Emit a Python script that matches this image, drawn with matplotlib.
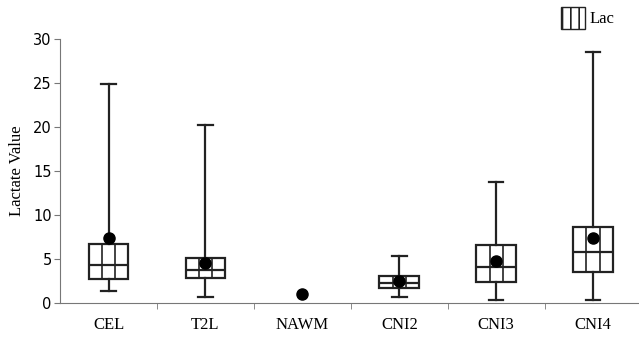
import numpy as np
import matplotlib.pyplot as plt
from matplotlib.patches import Patch

# Data
categories = ['CEL', 'T2L', 'NAWM', 'CNI2', 'CNI3', 'CNI4']
whisker_low = [1.4, 0.7, None, 0.7, 0.4, 0.4]
q1 = [2.7, 2.8, None, 1.7, 2.4, 3.5]
median = [4.35, 3.75, None, 2.3, 4.1, 5.8]
q3 = [6.7, 5.1, None, 3.1, 6.6, 8.6]
whisker_high = [24.9, 20.2, None, 5.3, 13.7, 28.5]
means = [7.4, 4.5, 1.0, 2.5, 4.8, 7.4]

plt.rcParams['hatch.linewidth'] = 1.2
plt.rcParams['hatch.color'] = '#222222'

fig = plt.figure(figsize=(6.39, 3.39), dpi=100)
ax = fig.add_axes([0.094, 0.106, 0.91, 0.779])

stats, pos = [], []
for i, c in enumerate(categories):
    if q1[i] is None:
        continue
    stats.append(dict(label=c, whislo=whisker_low[i], q1=q1[i], med=median[i],
                      q3=q3[i], whishi=whisker_high[i], fliers=[]))
    pos.append(i)

w = 0.41
line = dict(color='#222222', linewidth=1.6)
bp = ax.bxp(stats, positions=pos, widths=w, patch_artist=True,
            showfliers=False, boxprops=dict(facecolor='white', edgecolor='#222222', linewidth=1.6),
            medianprops=line, whiskerprops=line, capprops=line, capwidths=0.15,
            manage_ticks=False)

# vertical pattern lines splitting each box in three columns
for p, s in zip(pos, stats):
    ax.vlines([p - w / 6, p + w / 6], s['q1'], s['q3'], color='#222222', linewidth=1.2, zorder=3)

ax.plot(range(len(categories)), means, 'o', color='black', markersize=8, zorder=5)

ax.set_xlim(-0.5, 5.5)
ax.set_ylim(0, 30)
ax.set_yticks(range(0, 31, 5))
ax.set_xticks(range(len(categories)))
ax.set_xticklabels(categories, family='Liberation Serif', fontsize=12)
ax.set_xticks(np.arange(0.5, 5, 1), minor=True)
ax.tick_params(axis='x', which='major', length=0, pad=10)
ax.tick_params(axis='x', which='minor', length=4, color='#777777')
ax.tick_params(axis='y', length=4, color='#777777', labelsize=10.5, pad=2)
for s in ['top', 'right']:
    ax.spines[s].set_visible(False)
for s in ['left', 'bottom']:
    ax.spines[s].set_color('#777777')
ax.set_ylabel('Lactate Value', family='Liberation Serif', fontsize=12, labelpad=6)

fig.legend(handles=[Patch(facecolor='white', edgecolor='#222222', hatch='||', label='Lac')],
           loc='upper right', bbox_to_anchor=(0.985, 1.025), frameon=False,
           prop=dict(family='Liberation Serif', size=12), handlelength=1.4,
           handleheight=1.7, handletextpad=0.3)

plt.savefig('out.png', dpi=100)
